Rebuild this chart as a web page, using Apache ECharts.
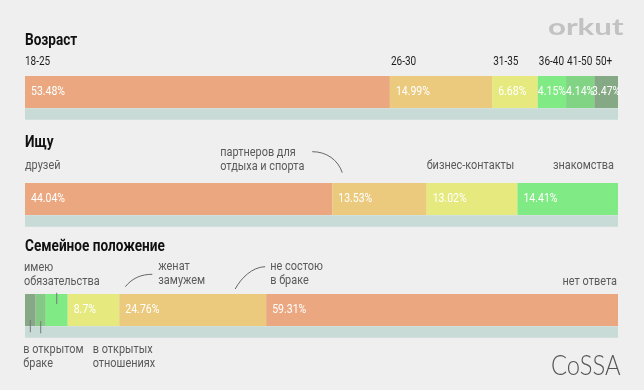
<!DOCTYPE html>
<html><head><meta charset="utf-8">
<script src="https://cdn.jsdelivr.net/npm/echarts@6/dist/echarts.min.js"></script>
<style>html,body{margin:0;padding:0;background:#efefef}#c{width:644px;height:390px}</style>
</head><body><div id="c"></div>
<script>
// ---- data ----
const titles = ['Возраст', 'Ищу', 'Семейное положение'];
const ageCats = ['18-25', '26-30', '31-35', '36-40', '41-50', '50+'];
const ageVals = [53.48, 14.99, 6.68, 4.15, 4.14, 3.47];
const seekCats = ['друзей', 'партнеров для\nотдыха и спорта', 'бизнес-контакты', 'знакомства'];
const seekVals = [44.04, 13.53, 13.02, 14.41];
const famCats = ['в открытом\nбраке', 'в открытых\nотношениях', 'имею\nобязательства', 'женат\nзамужем', 'не состою\nв браке', 'нет ответа'];
const famVals = [1.8, 1.7, 3.7, 8.7, 24.76, 59.31];
const famShowValue = [false, false, false, true, true, true];

// ---- styles ----
const ageColors = ['#eba880', '#ebca7e', '#e5e97e', '#80ea84', '#80d484', '#85a985'];
const seekColors = ['#eba880', '#ebca7e', '#e5e97e', '#80ea84'];
const famColors = ['#86a886', '#86c986', '#80ea84', '#e5e97e', '#ebca7e', '#eba880'];
const FONT = "Roboto, 'Noto Sans', sans-serif";
const COND = 0.84;          // horizontal condensing of the text
const rowTops = [76, 183, 294];
const BAR_H = 32, SHADOW_H = 11.5;

const rows = [
  { vals: ageVals, colors: ageColors, show: ageVals.map(() => true) },
  { vals: seekVals, colors: seekColors, show: seekVals.map(() => true) },
  { vals: famVals, colors: famColors, show: famShowValue }
];
const sum = a => a.reduce((s, v) => s + v, 0);

const grids = [], xAxes = [], yAxes = [], series = [];
rows.forEach((row, r) => {
  grids.push({ left: 25, right: 26, top: rowTops[r], height: BAR_H });
  xAxes.push({
    gridIndex: r, type: 'value', min: 0, max: sum(row.vals),
    offset: SHADOW_H / 2,
    axisLine: { show: true, onZero: false, lineStyle: { color: '#c9dbd7', width: SHADOW_H, cap: 'butt' } },
    axisTick: { show: false }, axisLabel: { show: false }, splitLine: { show: false }
  });
  yAxes.push({ gridIndex: r, type: 'category', data: ['row'], show: false });
  row.vals.forEach((v, k) => {
    series.push({
      type: 'bar', stack: 'row' + r, xAxisIndex: r, yAxisIndex: r,
      barWidth: '100%', data: [v],
      itemStyle: { color: row.colors[k] },
      label: { show: false },
      emphasis: { disabled: true }, silent: true
    });
  });
});

const chart = echarts.init(document.getElementById('c'));
chart.setOption({
  backgroundColor: '#efefef', animation: false,
  grid: grids, xAxis: xAxes, yAxis: yAxes, series: series
});

// ---- annotations positioned from the axis scales ----
const px = (r, v) => chart.convertToPixel({ xAxisIndex: r }, v);
const starts = rows.map(row => { let c = 0; return row.vals.map(v => { const s = c; c += v; return s; }); });
const segStart = (r, k) => px(r, starts[r][k]);
const segEnd = (r, k) => px(r, starts[r][k] + rows[r].vals[k]);
const segMid = (r, k) => (segStart(r, k) + segEnd(r, k)) / 2;
const rowEnd = r => px(r, sum(rows[r].vals));

const ctx = document.createElement('canvas').getContext('2d');
const measure = (text, font) => { ctx.font = font; return ctx.measureText(text).width; };

const g = [];
const txt = (text, x, y, o = {}, scale = COND) => g.push({
  type: 'text', silent: true, z: 100, x, y, scaleX: scale,
  style: Object.assign({ text, x: 0, y: 0, fill: '#5a5a5a', font: '13px ' + FONT, align: 'left', verticalAlign: 'middle', lineHeight: 14 }, o)
});
const line = (x1, y1, x2, y2) => g.push({ type: 'line', silent: true, z: 100, shape: { x1, y1, x2, y2 }, style: { stroke: '#777', lineWidth: 1 } });
const curve = (x1, y1, cx1, cy1, cx2, cy2, x2, y2) => g.push({
  type: 'bezierCurve', silent: true, z: 100,
  shape: { x1, y1, cpx1: cx1, cpy1: cy1, cpx2: cx2, cpy2: cy2, x2, y2 },
  style: { stroke: '#666', lineWidth: 1, fill: null }
});

// value labels inside the bars
const VFONT = '12.5px ' + FONT;
rows.forEach((row, r) => {
  const cy = rowTops[r] + BAR_H / 2;
  row.vals.forEach((v, k) => {
    if (!row.show[k]) return;
    const t = v + '%';
    const w = measure(t, VFONT) * COND;
    const s = segStart(r, k), e = segEnd(r, k);
    if (e - s >= w + 10) txt(t, s + 6, cy, { fill: '#fff', font: VFONT });
    else txt(t, (s + e) / 2, cy, { fill: '#fff', font: VFONT, align: 'center' });
  });
});

// titles
const titleY = [40.8, 142.5, 246.7];
titles.forEach((t, i) => txt(t, 25, titleY[i], { fill: '#111', font: 'bold 16px ' + FONT }, 0.85));

// row 1 categories
ageCats.forEach((c, k) => txt(c, segStart(0, k) + (k ? 1 : 0), 61.7, { fill: '#1e1e1e', font: '12.5px ' + FONT }, 0.8));

// row 2 categories
txt(seekCats[0], segStart(1, 0), 166);
{
  const s = segStart(1, 1);
  txt(seekCats[1], s - 112, 159.7);
  curve(s - 20, 151.7, s - 6, 151.5, s + 6, 160, s + 10, 172.7);
}
txt(seekCats[2], segStart(1, 2), 166);
txt(seekCats[3], rowEnd(1) - 4, 166, { align: 'right' });

// row 3 categories
txt(famCats[2], 24, 275);
line(segMid(2, 2), 292.7, segMid(2, 2), 304);
txt(famCats[0], 23.3, 357);
line(segMid(2, 0), 320, segMid(2, 0), 332.3);
txt(famCats[1], 92.7, 357);
line(segMid(2, 1), 321, segMid(2, 1), 333.3);
{
  const e = segEnd(2, 3);
  txt(famCats[3], e + 39, 274.2);
  curve(e + 6, 286.7, e + 13, 278, e + 22, 274.3, e + 33, 274.3);
}
{
  const e = segEnd(2, 4);
  txt(famCats[4], e + 4, 274.2);
  curve(e - 31, 289, e - 25, 278, e - 14, 267, e - 1, 266.7);
}
txt(famCats[5], rowEnd(2) - 1, 282, { align: 'right' });

// logos
g.push({ type: 'text', silent: true, z: 100, x: 548, y: 28, scaleX: 1.42,
  style: { text: 'orkut', x: 0, y: 0, fill: '#c2c2c2', font: 'bold 22px Lato, sans-serif', verticalAlign: 'middle' } });
g.push({ type: 'text', silent: true, z: 100, x: 551, y: 366, scaleX: 0.85,
  style: { text: 'CoSSA', x: 0, y: 0, fill: '#555', font: '300 28px Lato, sans-serif', verticalAlign: 'middle' } });

chart.setOption({ graphic: g });
</script></body></html>
